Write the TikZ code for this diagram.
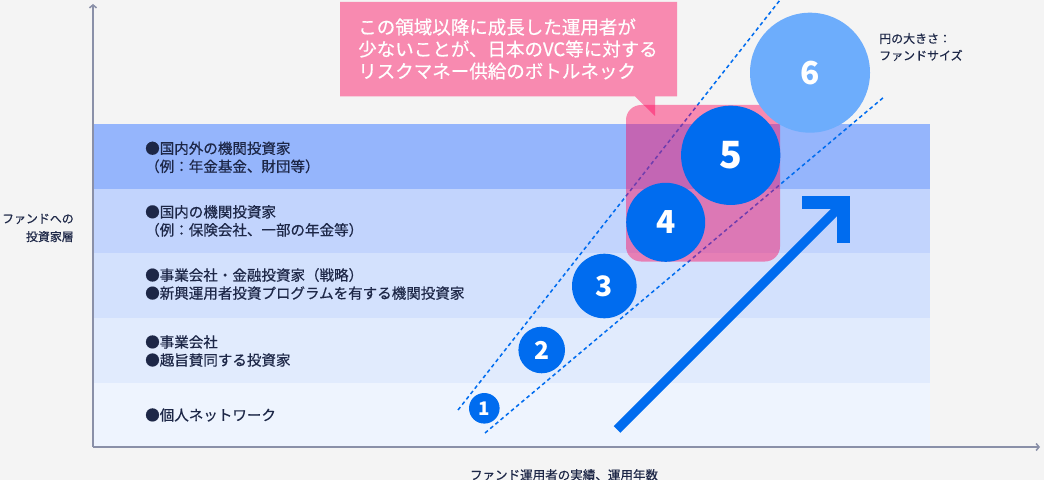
\documentclass[tikz,border=0pt]{standalone}
\usepackage{fontspec}
\setmainfont{Noto Sans CJK JP}
\newfontfamily\jpmed{Noto Sans CJK JP}[FakeBold=0.45]
\usetikzlibrary{arrows.meta}
\definecolor{bgc}{HTML}{F4F4F4}
\definecolor{bandA}{HTML}{95B5FC}
\definecolor{bandB}{HTML}{C2D4FD}
\definecolor{bandC}{HTML}{D3E1FD}
\definecolor{bandD}{HTML}{E1EBFD}
\definecolor{bandE}{HTML}{EEF4FE}
\definecolor{circblue}{HTML}{006CEF}
\definecolor{lightblue}{HTML}{6DADFC}
\definecolor{pinkc}{RGB}{255,3,90}
\definecolor{navy}{HTML}{1D2747}
\definecolor{axisc}{HTML}{8A90A8}
\begin{document}
\begin{tikzpicture}[x=0.03cm,y=-0.03cm,
    bandtxt/.style={anchor=west,inner sep=0,align=left,text=navy,font=\jpmed\fontsize{12.4}{15.4}\selectfont},
    num/.style={circle,fill=circblue,text=white,inner sep=0},
    fan/.style={circblue,line width=1.3pt,dash pattern=on 3.2pt off 2.6pt}]
    \fill[bgc] (0,0) rectangle (1044,480);
    \useasboundingbox (0,0) rectangle (1044,480);
    \foreach \y/\c in {124/bandA,188.7/bandB,253.4/bandC,318.1/bandD,382.8/bandE} {
      \fill[\c] (93,\y) rectangle (930,\y+64.9);
    }
    \node[bandtxt] (kaigai) at (145,157.4) {●国内外の機関投資家\\（例：年金基金、財団等）};
    \node[bandtxt] (kokunai) at (145,221) {●国内の機関投資家\\（例：保険会社、一部の年金等）};
    \node[bandtxt] (senryaku) at (145,284) {●事業会社・金融投資家（戦略）\\●新興運用者投資プログラムを有する機関投資家};
    \node[bandtxt] (jigyo) at (145,351) {●事業会社\\●趣旨賛同する投資家};
    \node[bandtxt] (kojin) at (145,415) {●個人ネットワーク};
    \coordinate (o) at (93,447);
    \coordinate (ytop) at (93,4);
    \coordinate (xend) at (1040,447);
    \draw[axisc,line width=1.3pt,-{Straight Barb[length=2.5pt,width=6pt]}] (o) -- (ytop);
    \draw[axisc,line width=1.3pt,-{Straight Barb[length=2.5pt,width=6pt]}] (o) -- (xend);
    \node[anchor=east,align=right,inner sep=0,text=navy,font=\jpmed\fontsize{10.2}{15.4}\selectfont] (ylab) at (74,228) {ファンドへの\\投資家層};
    \node[inner sep=0,text=navy,font=\jpmed\fontsize{10.7}{13}\selectfont] (xlab) at (564,475) {ファンド運用者の実績、運用年数};
    \coordinate (u0) at (458,410);
    \coordinate (u1) at (780,0);
    \coordinate (l0) at (485,433);
    \coordinate (l1) at (884,97);
    \draw[fan] (u0) -- (u1);
    \draw[fan] (l0) -- (l1);
    \foreach \n/\x/\y/\r/\s in {1/484.3/408.3/15.3/16,2/541.7/350/23.3/21,3/604.3/286/32.3/24} {
      \node[num,minimum size=\r*0.06cm,font=\fontsize{\s}{\s}\selectfont\bfseries] (c\n) at (\x,\y) {\n};
    }
    \fill[pinkc,fill opacity=0.44,rounded corners=0.45cm] (626,105) rectangle (780,261.5);
    \node[num,minimum size=2.37cm,font=\fontsize{27}{27}\selectfont\bfseries] (c4) at (665.7,222.3) {4};
    \node[num,minimum size=2.98cm,font=\fontsize{32}{32}\selectfont\bfseries] (c5) at (730.7,155.3) {5};
    \node[num,fill=lightblue,minimum size=3.6cm,font=\fontsize{27}{27}\selectfont\bfseries] (c6) at (810,72.7) {6};
    \node[anchor=west,align=left,inner sep=0,text=navy,font=\jpmed\fontsize{10.2}{14.5}\selectfont] (size) at (879,47) {円の大きさ：\\ファンドサイズ};
    \fill[pinkc,fill opacity=0.44] (340,2) -- (677,2) -- (677,96.5) -- (655,96.5) -- (655,116) -- (635,96.5) -- (340,96.5) -- cycle;
    \node[anchor=west,align=left,inner sep=0,text=white,font=\jpmed\fontsize{15.8}{18.8}\selectfont] (callout) at (358,49) {この領域以降に成長した運用者が\\少ないことが、日本のVC等に対する\\リスクマネー供給のボトルネック};
    \coordinate (a0) at (617,429.5);
    \coordinate (a1) at (840,206.5);
    \coordinate (h0) at (802,202.2);
    \coordinate (hc) at (843.2,202.2);
    \coordinate (h1) at (843.2,242.7);
    \draw[circblue,line width=8.1pt] (a0) -- (a1);
    \draw[circblue,line width=10.8pt] (h0) -- (hc) -- (h1);
\end{tikzpicture}
\end{document}
